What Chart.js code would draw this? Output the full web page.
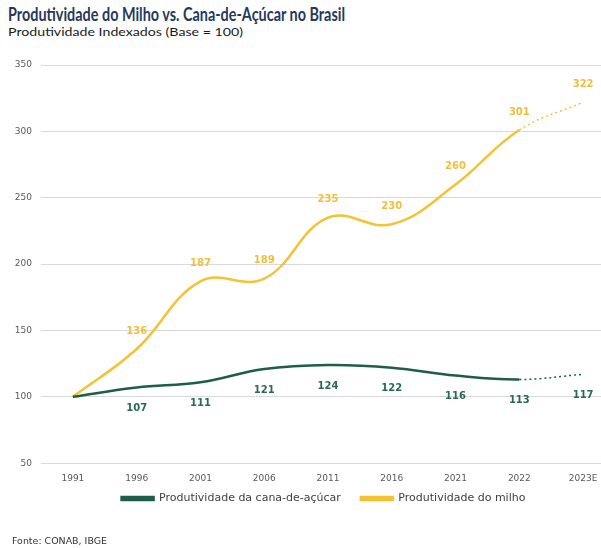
<!DOCTYPE html>
<html>
<head>
<meta charset="utf-8">
<script src="https://cdn.jsdelivr.net/npm/chart.js@4"></script>
<style>
  html, body { margin: 0; padding: 0; background: #fff; overflow: hidden; }
  body { width: 601px; height: 548px; position: relative; }
  .fit { position: absolute; white-space: nowrap; transform-origin: 0 0; }
  #title { left: 8px; top: 3px; font-family: Lato, sans-serif; font-weight: bold; font-size: 18px; color: #25395A; }
  #subtitle { left: 8px; top: 25px; font-family: Lato, sans-serif; font-size: 11.5px; color: #1a1a1a; }
  #footer { left: 12px; top: 536px; font-family: "DejaVu Sans", sans-serif; font-size: 8.5px; color: #333; }
  #wrap { position: absolute; left: 0; top: 40px; width: 646px; height: 516px; }
</style>
</head>
<body>
<div id="title" class="fit" data-w="337">Produtividade do Milho vs. Cana-de-Açúcar no Brasil</div>
<div id="subtitle" class="fit" data-w="235">Produtividade Indexados (Base = 100)</div>
<div id="wrap"><canvas id="c" width="646" height="516"></canvas></div>
<div id="footer" class="fit" data-w="95">Fonte: CONAB, IBGE</div>
<script>
const categories = ["1991", "1996", "2001", "2006", "2011", "2016", "2021", "2022", "2023E"];
const canaValues = [100, 107, 111, 121, 124, 122, 116, 113, 117];
const milhoValues = [100, 136, 187, 189, 235, 230, 260, 301, 322];
const yTicks = [50, 100, 150, 200, 250, 300, 350];

document.querySelectorAll(".fit").forEach(el => {
  const w = el.getBoundingClientRect().width;
  const target = parseFloat(el.dataset.w);
  el.style.transform = "scaleX(" + (target / w) + ")";
});

const GREEN = "#1E5E48";
const GOLD = "#F5C232";
const FONT = "'DejaVu Sans', sans-serif";

const dotted = ctx => ctx.p0DataIndex === categories.length - 2 ? [2, 3] : undefined;
const dottedW = ctx => ctx.p0DataIndex === categories.length - 2 ? 1.5 : undefined;

const labelsPlugin = {
  id: "valueLabels",
  afterLayout(chart) {
    // place the legend as in the reference (centred on the visible width, just under the axis)
    const lg = chart.legend;
    if (lg) { lg.left += 16; lg.right += 16; lg.top -= 21; lg.bottom -= 21; }
  },
  afterDatasetsDraw(chart) {
    const ctx = chart.ctx;
    ctx.save();
    ctx.font = "bold 10px " + FONT;
    ctx.textAlign = "center";
    ctx.textBaseline = "middle";
    chart.data.datasets.forEach((ds, di) => {
      const meta = chart.getDatasetMeta(di);
      meta.data.forEach((pt, i) => {
        if (i === 0) return;
        ctx.fillStyle = ds.labelColor;
        ctx.fillText(String(ds.data[i]), pt.x, pt.y + ds.labelOffset);
      });
    });
    ctx.restore();
  }
};

new Chart(document.getElementById("c"), {
  type: "line",
  data: {
    labels: categories,
    datasets: [
      {
        label: "Produtividade da cana-de-açúcar",
        data: canaValues,
        borderColor: GREEN,
        backgroundColor: GREEN,
        borderWidth: 2.5,
        tension: 0.4,
        pointRadius: 0,
        labelOffset: 21,
        labelColor: "#2A6A52",
        segment: { borderDash: dotted, borderWidth: dottedW }
      },
      {
        label: "Produtividade do milho",
        data: milhoValues,
        borderColor: GOLD,
        backgroundColor: GOLD,
        borderWidth: 2.5,
        tension: 0.4,
        pointRadius: 0,
        labelOffset: -18,
        labelColor: "#F0BE3A",
        segment: { borderDash: dotted, borderWidth: dottedW }
      }
    ]
  },
  options: {
    responsive: false,
    animation: false,
    layout: { padding: { left: 0, right: 31, top: 25, bottom: 21 } },
    scales: {
      x: {
        offset: true,
        grid: { display: false, drawTicks: false },
        border: { display: false },
        ticks: { color: "#595959", font: { family: FONT, size: 9 }, padding: 10, maxRotation: 0, autoSkip: false }
      },
      y: {
        min: 50,
        max: 350,
        afterFit(s) { s.width = 41; },
        afterBuildTicks(s) { s.ticks = yTicks.map(v => ({ value: v })); },
        grid: { color: "#D9D9D9", lineWidth: 1, drawTicks: false },
        border: { display: false },
        ticks: { color: "#595959", font: { family: FONT, size: 9 }, padding: 9 }
      }
    },
    plugins: {
      legend: {
        position: "bottom",
        labels: {
          color: "#404040",
          font: { family: FONT, size: 11 },
          boxWidth: 32,
          boxHeight: 3,
          padding: 20
        }
      },
      tooltip: { enabled: false }
    }
  },
  plugins: [labelsPlugin]
});
</script>
</body>
</html>
